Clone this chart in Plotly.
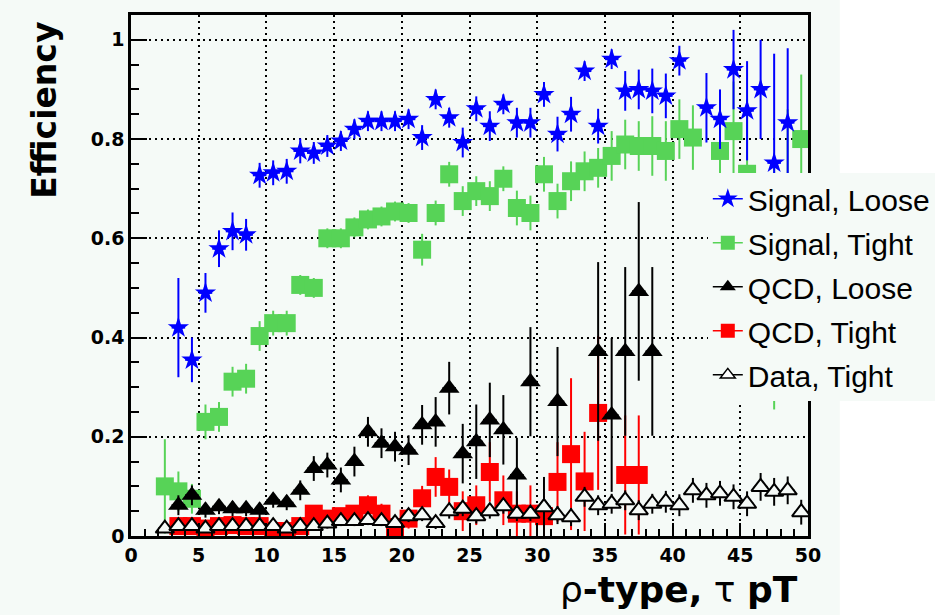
import plotly.graph_objects as go

# ---- Signal, Loose (blue stars) ----
sl_x = [3.5, 4.5, 5.5, 6.5, 7.5, 8.5, 9.5, 10.5, 11.5, 12.5, 13.5, 14.5, 15.5, 16.5,
        17.5, 18.5, 19.5, 20.5, 21.5, 22.5, 23.5, 24.5, 25.5, 26.5, 27.5, 28.5, 29.5,
        30.5, 31.5, 32.5, 33.5, 34.5, 35.5, 36.5, 37.5, 38.5, 39.5, 40.5, 42.5, 43.5,
        44.5, 45.5, 46.5, 47.5, 48.5]
sl_y = [0.42, 0.355, 0.49, 0.579, 0.614, 0.607, 0.727, 0.732, 0.735, 0.776, 0.772, 0.786,
        0.796, 0.82, 0.836, 0.836, 0.836, 0.84, 0.803, 0.88, 0.843, 0.793, 0.861, 0.826,
        0.87, 0.833, 0.833, 0.89, 0.81, 0.85, 0.937, 0.826, 0.961, 0.897, 0.90, 0.897,
        0.887, 0.958, 0.863, 0.84, 0.94, 0.857, 0.90, 0.752, 0.833]
sl_err = [0.10, 0.045, 0.04, 0.037, 0.038, 0.032, 0.025, 0.025, 0.025, 0.025, 0.022, 0.022,
          0.02, 0.02, 0.02, 0.02, 0.02, 0.02, 0.025, 0.02, 0.02, 0.03, 0.025, 0.03,
          0.02, 0.03, 0.03, 0.025, 0.035, 0.035, 0.02, 0.035, 0.02, 0.04, 0.04, 0.045,
          0.045, 0.03, 0.07, 0.06, 0.08, 0.10, 0.10, 0.22, 0.15]

# ---- Signal, Tight (green squares) ----
st_x = [2.5, 3.5, 4.5, 5.5, 6.5, 7.5, 8.5, 9.5, 10.5, 11.5, 12.5, 13.5, 14.5, 15.5, 16.5,
        17.5, 18.5, 19.5, 20.5, 21.5, 22.5, 23.5, 24.5, 25.5, 26.5, 27.5, 28.5, 29.5,
        30.5, 31.5, 32.5, 33.5, 34.5, 35.5, 36.5, 37.5, 38.5, 39.5, 40.5, 41.5, 43.5,
        44.5, 45.5, 47.5, 48.5, 49.5]
st_y = [0.10, 0.09, 0.075, 0.23, 0.24, 0.311, 0.317, 0.403, 0.429, 0.429, 0.506, 0.50,
        0.60, 0.60, 0.622, 0.638, 0.644, 0.654, 0.651, 0.577, 0.651, 0.729, 0.675, 0.695,
        0.685, 0.72, 0.661, 0.651, 0.729, 0.675, 0.715, 0.735, 0.742, 0.766, 0.789, 0.786,
        0.786, 0.776, 0.82, 0.803, 0.776, 0.816, 0.73, 0.50, 0.60, 0.80]
st_err = [0.095, 0.04, 0.03, 0.035, 0.03, 0.03, 0.03, 0.03, 0.025, 0.025, 0.02, 0.02,
          0.02, 0.02, 0.02, 0.02, 0.02, 0.02, 0.02, 0.032, 0.025, 0.025, 0.03, 0.03,
          0.03, 0.025, 0.035, 0.035, 0.035, 0.035, 0.04, 0.04, 0.04, 0.05, 0.05, 0.05,
          0.06, 0.06, 0.06, 0.065, 0.08, 0.10, 0.15, 0.245, 0.26, 0.13]

# ---- QCD, Loose (black triangles) ----
ql_x = [3.5, 4.5, 5.5, 6.5, 7.5, 8.5, 9.5, 10.5, 11.5, 12.5, 13.5, 14.5, 15.5, 16.5,
        17.5, 18.5, 19.5, 20.5, 21.5, 22.5, 23.5, 24.5, 25.5, 26.5, 27.5, 28.5, 29.5,
        30.5, 31.5, 34.5, 35.5, 36.5, 37.5, 38.5]
ql_y = [0.062, 0.082, 0.052, 0.059, 0.055, 0.055, 0.052, 0.072, 0.067, 0.092, 0.136,
        0.143, 0.113, 0.15, 0.21, 0.187, 0.18, 0.173, 0.224, 0.23, 0.298, 0.166, 0.19,
        0.234, 0.214, 0.123, 0.311, 0.059, 0.271, 0.372, 0.244, 0.372, 0.493, 0.372]
ql_err = [0.02, 0.02, 0.015, 0.015, 0.015, 0.015, 0.015, 0.015, 0.015, 0.02, 0.025,
          0.025, 0.025, 0.03, 0.03, 0.03, 0.03, 0.03, 0.04, 0.05, 0.053, 0.06, 0.075,
          0.075, 0.07, 0.075, 0.11, 0.06, 0.11, 0.18, 0.155, 0.17, 0.18, 0.17]

# ---- QCD, Tight (red squares) ----
qt_x = [3.5, 4.5, 5.5, 6.5, 7.5, 8.5, 9.5, 10.5, 11.5, 12.5, 13.5, 14.5, 15.5, 16.5,
        17.5, 18.5, 19.5, 20.5, 21.5, 22.5, 23.5, 24.5, 25.5, 26.5, 27.5, 28.5, 29.5,
        30.5, 31.5, 32.5, 33.5, 34.5, 36.5, 37.5]
qt_y = [0.02, 0.02, 0.015, 0.02, 0.022, 0.02, 0.02, 0.01, 0.01, 0.02, 0.045, 0.035,
        0.04, 0.045, 0.062, 0.045, 0.018, 0.035, 0.076, 0.119, 0.099, 0.05, 0.062,
        0.129, 0.072, 0.045, 0.045, 0.04, 0.109, 0.165, 0.11, 0.248, 0.123, 0.123]
qt_err = [0.01, 0.01, 0.01, 0.01, 0.01, 0.01, 0.01, 0.01, 0.01, 0.01, 0.015, 0.015,
          0.015, 0.015, 0.02, 0.02, 0.015, 0.02, 0.025, 0.04, 0.035, 0.04, 0.04,
          0.06, 0.05, 0.045, 0.057, 0.04, 0.08, 0.153, 0.10, 0.155, 0.12, 0.12]

# ---- Data, Tight (open triangles) ----
dt_x = [2.5, 3.5, 4.5, 5.5, 6.5, 7.5, 8.5, 9.5, 10.5, 11.5, 12.5, 13.5, 14.5, 15.5, 16.5,
        17.5, 18.5, 19.5, 20.5, 21.5, 22.5, 23.5, 24.5, 25.5, 26.5, 27.5, 28.5, 29.5,
        30.5, 31.5, 32.5, 33.5, 34.5, 35.5, 36.5, 37.5, 38.5, 39.5, 40.5, 41.5, 42.5,
        43.5, 44.5, 45.5, 46.5, 47.5, 48.5, 49.5]
dt_y = [0.015, 0.02, 0.02, 0.015, 0.02, 0.02, 0.02, 0.02, 0.02, 0.015, 0.02, 0.02, 0.025,
        0.03, 0.03, 0.032, 0.03, 0.026, 0.04, 0.042, 0.026, 0.05, 0.055, 0.04, 0.05, 0.06,
        0.045, 0.045, 0.058, 0.042, 0.038, 0.079, 0.062, 0.065, 0.072, 0.052, 0.065,
        0.069, 0.062, 0.092, 0.082, 0.086, 0.079, 0.065, 0.099, 0.089, 0.092, 0.048]
dt_err = [0.008, 0.008, 0.008, 0.008, 0.008, 0.008, 0.008, 0.008, 0.008, 0.008, 0.008,
          0.008, 0.01, 0.01, 0.01, 0.01, 0.01, 0.01, 0.012, 0.012, 0.012, 0.015, 0.015,
          0.015, 0.015, 0.015, 0.015, 0.015, 0.018, 0.018, 0.018, 0.02, 0.02, 0.02, 0.02,
          0.02, 0.02, 0.022, 0.022, 0.025, 0.025, 0.025, 0.025, 0.025, 0.028, 0.028,
          0.028, 0.025]

BG = "#f5faf7"
BIN_HALF = 0.5


def series(name, xs, ys, errs, color, symbol, size, fill=None):
    """Points with vertical errors and bin-width horizontal bars (no legend entry)."""
    marker = dict(symbol=symbol, size=size, color=fill if fill else color,
                  line=dict(width=0 if fill is None else 2, color=color))
    return go.Scatter(
        x=xs, y=ys, name=name, mode="markers", legendgroup=name, showlegend=False,
        marker=marker,
        error_y=dict(type="data", array=errs, color=color, thickness=2, width=0),
        error_x=dict(type="constant", value=BIN_HALF, color=color, thickness=2, width=0),
    )


def legend_entry(name, color, symbol, size, rank, fill=None):
    """Legend-only sample: a short line through the marker."""
    return go.Scatter(
        x=[None], y=[None], name=name, mode="lines+markers", legendgroup=name,
        legendrank=rank, showlegend=True,
        line=dict(color=color, width=1.5),
        marker=dict(symbol=symbol, size=size, color=fill if fill else color,
                    line=dict(width=0 if fill is None else 1.5, color=color)),
    )


fig = go.Figure()
fig.add_trace(series("Signal, Tight", st_x, st_y, st_err, "#57d357", "square", 18))
fig.add_trace(series("Signal, Loose", sl_x, sl_y, sl_err, "#0000ff", "star", 16))
fig.add_trace(series("QCD, Tight", qt_x, qt_y, qt_err, "#ff0000", "square", 18))
fig.add_trace(series("QCD, Loose", ql_x, ql_y, ql_err, "#000000", "triangle-up", 18))
fig.add_trace(series("Data, Tight", dt_x, dt_y, dt_err, "#000000", "triangle-up", 16,
                     fill=BG))

fig.add_trace(legend_entry("Signal, Loose", "#0000ff", "star", 15, 1))
fig.add_trace(legend_entry("Signal, Tight", "#57d357", "square", 14, 2))
fig.add_trace(legend_entry("QCD, Loose", "#000000", "triangle-up", 14, 3))
fig.add_trace(legend_entry("QCD, Tight", "#ff0000", "square", 14, 4))
fig.add_trace(legend_entry("Data, Tight", "#000000", "triangle-up", 13, 5, fill="white"))

tick_font = dict(family="DejaVu Sans", size=19, color="black", weight="bold")
grid = dict(showgrid=True, gridcolor="black", gridwidth=1.5, griddash="2px,4px")

fig.update_xaxes(
    range=[0, 50], tick0=0, dtick=5, ticks="inside", ticklen=13, tickwidth=2,
    tickcolor="black", tickfont=tick_font, showline=True, linewidth=2.5,
    linecolor="black", mirror=True, zeroline=False,
    minor=dict(dtick=1, ticks="inside", ticklen=7, tickwidth=2, tickcolor="black",
               showgrid=False),
    **grid,
)
fig.update_yaxes(
    range=[0, 1.05], tick0=0, dtick=0.2, ticks="inside", ticklen=16, tickwidth=2,
    tickcolor="black", tickfont=tick_font, showline=True, linewidth=2.5,
    linecolor="black", mirror=True, zeroline=False,
    minor=dict(dtick=0.05, ticks="inside", ticklen=8, tickwidth=2, tickcolor="black",
               showgrid=False),
    **grid,
)

fig.update_layout(
    width=948, height=615, autosize=False,
    margin=dict(l=131, r=140, t=15, b=79),
    paper_bgcolor="white", plot_bgcolor=BG,
    legend=dict(
        x=0.852, y=0.697, xanchor="left", yanchor="top",
        bgcolor=BG, borderwidth=0, tracegroupgap=2,
        font=dict(family="Liberation Sans", size=30, color="black"),
    ),
    shapes=[dict(type="rect", xref="paper", yref="paper", x0=-0.2, x1=1.047,
                 y0=-0.16, y1=1.03, fillcolor=BG, line=dict(width=0), layer="below")],
    annotations=[
        dict(text="Efficiency", xref="paper", yref="paper", x=-0.127, y=0.99,
             xanchor="center", yanchor="top", textangle=-90, showarrow=False,
             font=dict(family="DejaVu Sans", size=33, color="black", weight="bold")),
        dict(text="ρ<b>-type,</b> τ <b>pT</b>", xref="paper", yref="paper",
             x=0.988, y=-0.102, xanchor="right", yanchor="middle", showarrow=False,
             font=dict(family="DejaVu Sans", size=36, color="black")),
    ],
)

fig.write_html("out.html")
